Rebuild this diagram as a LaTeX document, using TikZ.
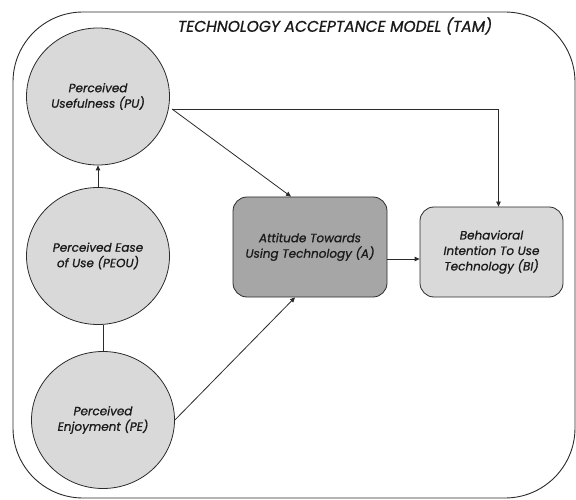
\documentclass[tikz,border=0pt]{standalone}
\usepackage{fontspec}
\setmainfont{Poppins}[FakeBold=0.9]
\usetikzlibrary{shapes.geometric,arrows.meta,calc}
\definecolor{fillgray}{HTML}{D9D9D9}
\definecolor{darkfill}{HTML}{A6A6A6}
\definecolor{linec}{HTML}{2B2B2B}
\definecolor{txt}{HTML}{1A1A1A}
\begin{document}
\begin{tikzpicture}[x=1pt,y=-1pt,
  every node/.style={font=\itshape\fontsize{12}{15.5}\selectfont, text=txt, align=center},
  circ/.style={ellipse, draw=linec, fill=fillgray, line width=0.8pt, minimum width=143pt, minimum height=137pt, inner sep=0pt},
  boxa/.style={draw=linec, fill=darkfill, rounded corners=14pt, line width=0.8pt, minimum width=154pt, minimum height=100pt, inner sep=0pt},
  boxb/.style={draw=linec, fill=fillgray, rounded corners=14pt, line width=0.8pt, minimum width=143pt, minimum height=90pt, inner sep=0pt},
  arr/.style={draw=linec, line width=0.8pt, -{Triangle[length=5pt,width=4.5pt]}},
  ln/.style={draw=linec, line width=0.8pt}]
\useasboundingbox (0,0) rectangle (576,500);
\draw[line width=0.9pt, draw=linec, rounded corners=70pt] (13,12) rectangle (575,498);
\node[font=\itshape\fontsize{15.5}{18}\selectfont] (title) at (335,26) {TECHNOLOGY ACCEPTANCE MODEL (TAM)};
\node[circ] (PU) at (98,96.5) {Perceived\\Usefulness (PU)};
\node[circ] (PEOU) at (98,256) {Perceived Ease\\of Use (PEOU)};
\node[circ] (PE) at (103,420) {Perceived\\Enjoyment (PE)};
\node[boxa] (A) at (310,247) {Attitude Towards\\Using Technology (A)};
\node[boxb] (BI) at (491.5,252) {Behavioral\\Intention To Use\\Technology (BI)};
\coordinate (puout) at (172,109);
\draw[arr] (PEOU.north) -- (PU.south);
\draw[ln] (PE.north) -- (PE.north |- PEOU.south);
\draw[arr] (puout) -- ([xshift=-19pt]A.north);
\draw[arr] (puout) -| ([xshift=7pt]BI.north);
\draw[arr] (PE.east) -- ([xshift=-15pt]A.south);
\draw[arr] ([yshift=-12pt]A.east) -- ([yshift=-12pt]A.east -| BI.west);
\end{tikzpicture}
\end{document}
